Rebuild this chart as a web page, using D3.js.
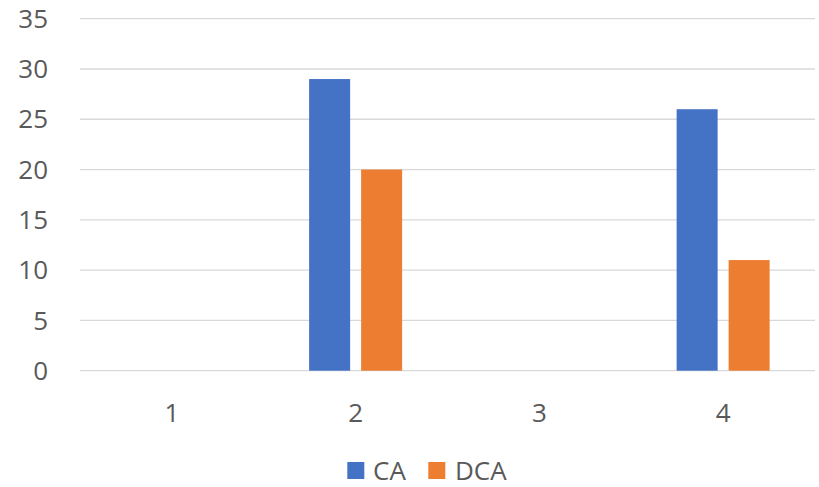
<!DOCTYPE html>
<html>
<head>
<meta charset="utf-8">
<script src="https://cdn.jsdelivr.net/npm/d3@7"></script>
<style>
  html, body { margin: 0; padding: 0; background: #fff; }
  svg text { font-family: "Open Sans", "Liberation Sans", sans-serif; fill: #595959; }
</style>
</head>
<body>
<svg id="chart" width="819" height="487"></svg>
<script>
// Chart data
const categories = ["1", "2", "3", "4"];
const seriesNames = ["CA", "DCA"];
const caValues = [null, 29, null, 26];
const dcaValues = [null, 20, null, 11];
const yTicks = [0, 5, 10, 15, 20, 25, 30, 35];
const colors = ["#4472C4", "#ED7D31"];

const seriesValues = [caValues, dcaValues];

const svg = d3.select("#chart");
const margin = { left: 80, right: 4, top: 18.7, bottom: 116.3 };
const width = 819, height = 487;

const x = d3.scaleBand()
  .domain(categories)
  .range([margin.left, width - margin.right])
  .paddingInner(0).paddingOuter(0);

const y = d3.scaleLinear()
  .domain([0, 35])
  .range([height - margin.bottom, margin.top]);

// Group of two bars centred in each category band
const groupWidth = 93;
const x1 = d3.scaleBand()
  .domain(seriesNames)
  .range([(x.bandwidth() - groupWidth) / 2, (x.bandwidth() + groupWidth) / 2])
  .paddingInner(2 - groupWidth / 52)
  .paddingOuter(0);

// Horizontal gridlines
svg.append("g")
  .selectAll("line")
  .data(yTicks)
  .join("line")
  .attr("x1", margin.left)
  .attr("x2", width - margin.right)
  .attr("y1", d => y(d))
  .attr("y2", d => y(d))
  .attr("stroke", "#D9D9D9")
  .attr("stroke-width", 1.3);

// Y axis labels
svg.append("g")
  .selectAll("text")
  .data(yTicks)
  .join("text")
  .attr("x", 48)
  .attr("y", d => y(d))
  .attr("dy", "0.35em")
  .attr("text-anchor", "end")
  .style("font-size", "26px")
  .text(d => d);

// Bars
seriesNames.forEach((name, si) => {
  svg.append("g")
    .selectAll("rect")
    .data(categories.map((c, i) => ({ c, v: seriesValues[si][i] })).filter(d => d.v != null))
    .join("rect")
    .attr("x", d => x(d.c) + x1(name))
    .attr("width", x1.bandwidth())
    .attr("y", d => y(d.v))
    .attr("height", d => y(0) - y(d.v))
    .attr("fill", colors[si]);
});

// X axis labels
svg.append("g")
  .selectAll("text")
  .data(categories)
  .join("text")
  .attr("x", d => x(d) + x.bandwidth() / 2)
  .attr("y", 421.5)
  .attr("text-anchor", "middle")
  .style("font-size", "26px")
  .text(d => d);

// Legend
const legendItems = [
  { name: "CA", sx: 347.3, tx: 373 },
  { name: "DCA", sx: 428.3, tx: 455 }
];
const legend = svg.append("g");
legendItems.forEach((item, i) => {
  legend.append("rect")
    .attr("x", item.sx).attr("y", 462)
    .attr("width", 17).attr("height", 17)
    .attr("fill", colors[i]);
  legend.append("text")
    .attr("x", item.tx).attr("y", 479.5)
    .style("font-size", "26px")
    .text(item.name);
});
</script>
</body>
</html>
